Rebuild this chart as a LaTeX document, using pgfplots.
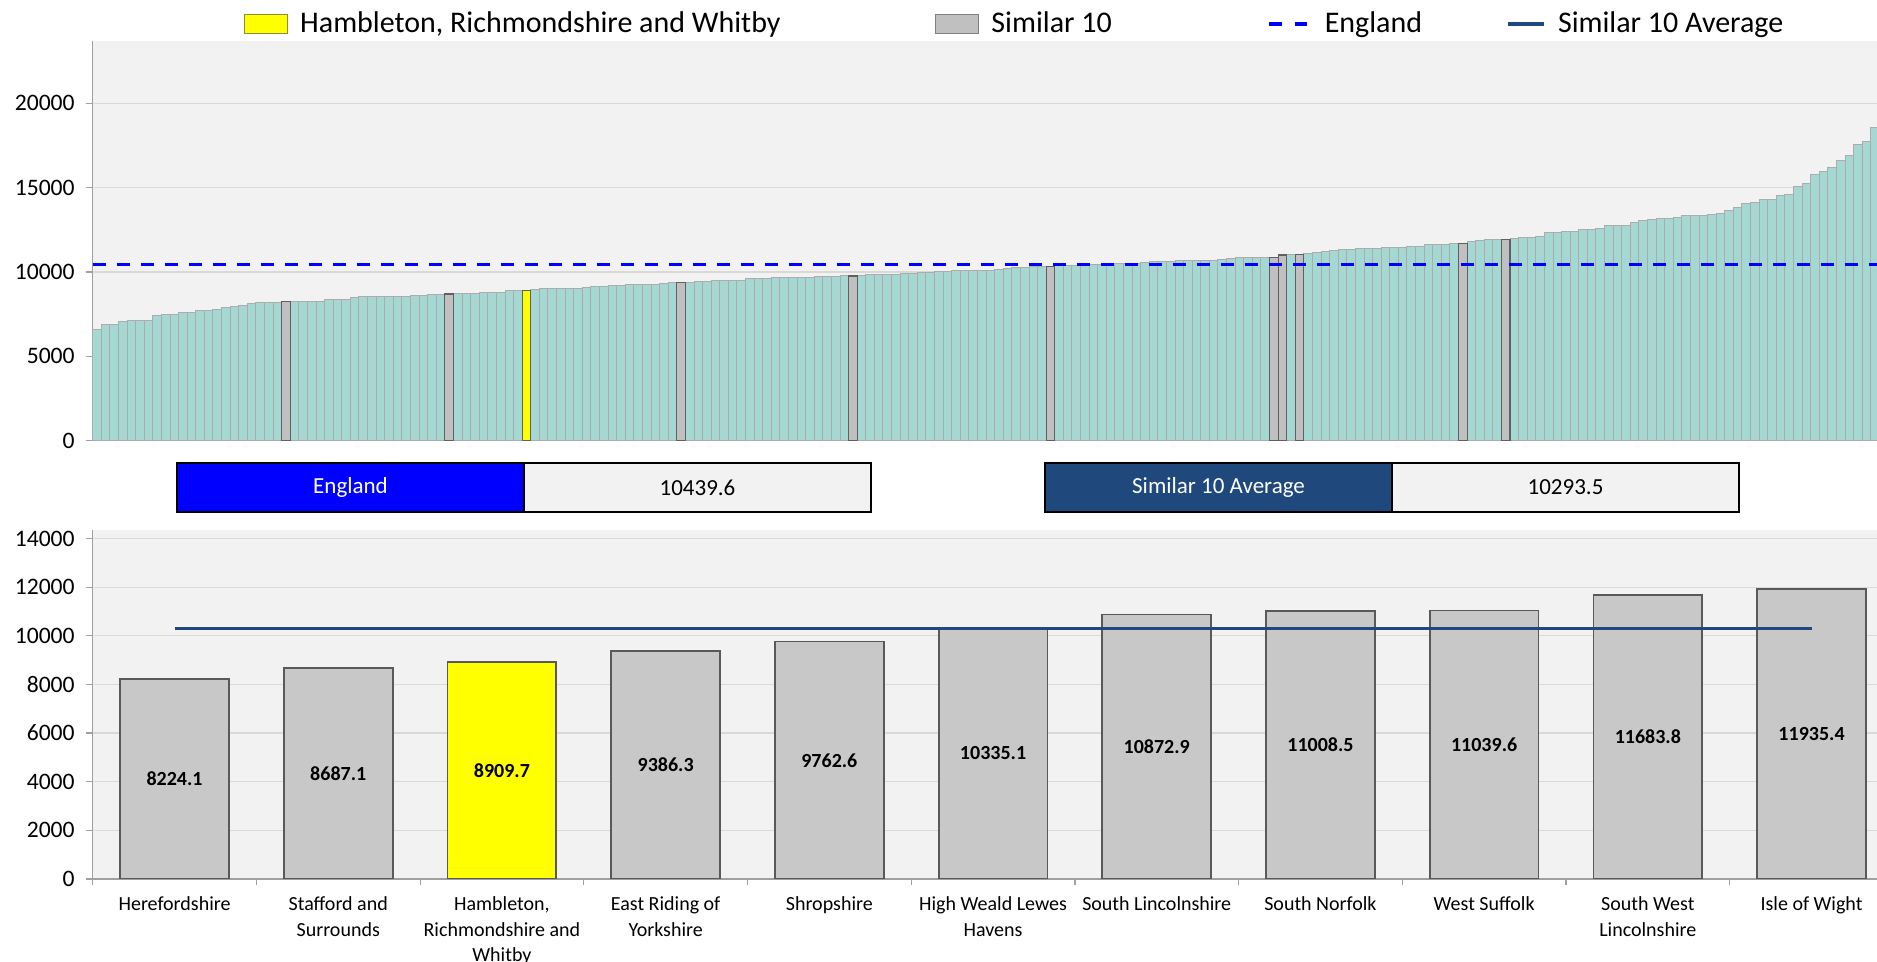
\documentclass[border=0pt]{standalone}
\usepackage{fontspec}
\setmainfont{Carlito}
\usepackage{pgfplots}
\usepackage{pgfplotstable}
\pgfplotsset{compat=1.18}
\definecolor{bgcol}{RGB}{242,242,242}
\definecolor{gridcol}{RGB}{217,217,217}
\definecolor{axiscol}{RGB}{160,160,160}
\definecolor{tealbar}{RGB}{166,216,211}
\definecolor{tealedge}{RGB}{172,172,172}
\definecolor{simfill}{RGB}{192,192,192}
\definecolor{simedge}{RGB}{96,96,96}
\definecolor{lowfill}{RGB}{200,200,200}
\definecolor{lowedge}{RGB}{89,89,89}
\definecolor{navy}{RGB}{31,73,125}
\definecolor{engblue}{RGB}{0,0,255}
\definecolor{hiyellow}{RGB}{255,255,0}
\definecolor{yedge}{RGB}{140,140,60}

\pgfplotstableread[row sep=\\]{x y\\
0 6560\\1 6895\\2 6900\\3 7075\\4 7095\\5 7130\\6 7135\\7 7410\\8 7485\\9 7490\\
10 7605\\11 7610\\12 7690\\13 7730\\14 7785\\15 7905\\16 7925\\17 8025\\18 8120\\19 8160\\
20 8165\\21 8170\\22 8224.1\\23 8228\\24 8232\\25 8250\\26 8255\\27 8350\\28 8360\\29 8390\\
30 8490\\31 8515\\32 8530\\33 8555\\34 8558\\35 8560\\36 8565\\37 8598\\38 8618\\39 8680\\
40 8685\\41 8687.1\\42 8700\\43 8720\\44 8725\\45 8795\\46 8798\\47 8800\\48 8905\\49 8908\\
50 8909.7\\51 8935\\52 8995\\53 9000\\54 9012\\55 9015\\56 9020\\57 9092\\58 9130\\59 9135\\
60 9210\\61 9212\\62 9250\\63 9255\\64 9258\\65 9262\\66 9330\\67 9382\\68 9386.3\\69 9400\\
70 9405\\71 9410\\72 9480\\73 9485\\74 9505\\75 9508\\76 9585\\77 9590\\78 9605\\79 9645\\
80 9665\\81 9667\\82 9670\\83 9672\\84 9725\\85 9728\\86 9730\\87 9760\\88 9762.6\\89 9765\\
90 9822\\91 9825\\92 9828\\93 9830\\94 9900\\95 9905\\96 9940\\97 9990\\98 10000\\99 10005\\
100 10064\\101 10084\\102 10086\\103 10104\\104 10106\\105 10143\\106 10183\\107 10242\\108 10262\\109 10320\\
110 10325\\111 10335.1\\112 10360\\113 10380\\114 10400\\115 10418\\116 10438\\117 10458\\118 10478\\119 10480\\
120 10482\\121 10517\\122 10557\\123 10616\\124 10636\\125 10638\\126 10655\\127 10675\\128 10677\\129 10679\\
130 10681\\131 10734\\132 10820\\133 10830\\134 10840\\135 10855\\136 10860\\137 10872.9\\138 11008.5\\139 11020\\
140 11039.6\\141 11071\\142 11150\\143 11209\\144 11248\\145 11308\\146 11347\\147 11367\\148 11369\\149 11387\\
150 11427\\151 11430\\152 11446\\153 11486\\154 11506\\155 11604\\156 11606\\157 11608\\158 11668\\159 11683.8\\
160 11805\\161 11845\\162 11904\\163 11930\\164 11935.4\\165 11964\\166 12023\\167 12062\\168 12122\\169 12319\\
170 12358\\171 12398\\172 12418\\173 12500\\174 12533\\175 12573\\176 12731\\177 12731\\178 12733\\179 12928\\
180 13067\\181 13126\\182 13165\\183 13167\\184 13225\\185 13324\\186 13344\\187 13346\\188 13423\\189 13482\\
190 13640\\191 13798\\192 14075\\193 14114\\194 14272\\195 14292\\196 14509\\197 14568\\198 15062\\199 15240\\
200 15793\\201 15971\\202 16189\\203 16584\\204 16880\\205 17532\\206 17729\\207 18539\\
}\allbars

\pgfplotstableread[row sep=\\]{x y\\
22 8224.1\\41 8687.1\\68 9386.3\\88 9762.6\\111 10335.1\\137 10872.9\\138 11008.5\\140 11039.6\\159 11683.8\\164 11935.4\\
}\simbars

\pgfplotstableread[row sep=\\]{x y\\
50 8909.7\\
}\ownbar

\pgfplotstableread[row sep=\\]{x v\\
0 8224.1\\1 8687.1\\3 9386.3\\4 9762.6\\5 10335.1\\6 10872.9\\7 11008.5\\8 11039.6\\9 11683.8\\10 11935.4\\
}\lowsim

\pgfplotstableread[row sep=\\]{x v\\
2 8909.7\\
}\lowown

\pgfplotstableread[row sep=\\]{x v\\
0 8224.1\\1 8687.1\\2 8909.7\\3 9386.3\\4 9762.6\\5 10335.1\\6 10872.9\\7 11008.5\\8 11039.6\\9 11683.8\\10 11935.4\\
}\lowall

\pgfplotsset{
  commonstyle/.style={
    scale only axis,
    anchor=south west,
    axis background/.style={fill=bgcol},
    axis x line*=bottom, axis y line*=left,
    axis line style={axiscol, line width=0.6pt},
    ymajorgrids, grid style={gridcol, line width=0.6pt},
    tick align=outside, major tick length=3.5pt,
    tick style={axiscol, line width=0.6pt},
    scaled y ticks=false,
    yticklabel={\pgfmathprintnumber[assume math mode=true,fixed,precision=0,set thousands separator={}]{\tick}},
    yticklabel style={font=\fontsize{11.8}{13}\selectfont, xshift=-2pt},
  }
}

\begin{document}
\begin{tikzpicture}
\useasboundingbox (0pt,0pt) rectangle (938.5pt,481pt);

% ---------------- top chart ----------------
\begin{axis}[commonstyle,
  at={(46.35pt,260.75pt)}, width=892.15pt, height=199.75pt,
  xmin=-0.5, xmax=207.22, ymin=0, ymax=23700,
  xtick=\empty, ytick={0,5000,...,20000},
  legend columns=4,
  legend cell align=left,
  legend style={draw=none, fill=none, inner sep=0pt, outer sep=0pt,
    at={(axis description cs:0.0848,1.0426)}, anchor=west,
    font=\fontsize{15}{18}\selectfont,
    nodes={inner sep=0pt},
    /tikz/every odd column/.append style={column sep=6pt},
    /tikz/every even column/.append style={column sep=0pt}},
]
\addplot[ybar, bar width=1, bar shift=0pt, fill=tealbar, draw=tealedge, line width=0.5pt, forget plot] table[x=x,y=y] {\allbars};
\addplot[ybar, bar width=1, bar shift=0pt, fill=simfill, draw=simedge, line width=0.6pt, forget plot] table[x=x,y=y] {\simbars};
\addplot[ybar, bar width=1, bar shift=0pt, fill=hiyellow, draw=simedge, line width=0.6pt, forget plot] table[x=x,y=y] {\ownbar};
\addplot[engblue, line width=1.7pt, dash pattern=on 6.7pt off 5.3pt, forget plot] coordinates {(-0.5,10439.6) (207.5,10439.6)};

\addlegendimage{legend image code/.code={\draw[fill=hiyellow, draw=yedge, line width=0.6pt] (0pt,-4.6pt) rectangle (21.5pt,4.6pt);}}
\addlegendentry{\makebox[317.5pt][l]{Hambleton, Richmondshire and Whitby}}
\addlegendimage{legend image code/.code={\draw[fill=simfill, draw=simedge!80, line width=0.6pt] (0pt,-4.6pt) rectangle (21.5pt,4.6pt);}}
\addlegendentry{\makebox[138pt][l]{Similar 10}}
\addlegendimage{legend image code/.code={\draw[engblue, line width=1.7pt, dash pattern=on 6.2pt off 6.6pt] (0pt,0pt) -- (21pt,0pt);}}
\addlegendentry{\makebox[91pt][l]{England}}
\addlegendimage{legend image code/.code={\draw[navy, line width=1.6pt] (1pt,0pt) -- (19pt,0pt);}}
\addlegendentry{Similar 10 Average}
\end{axis}

% ---------------- summary boxes ----------------
\draw[line width=1pt, fill=engblue] (88.5pt,225pt) rectangle (262pt,249.5pt);
\draw[line width=1pt, fill=bgcol] (262pt,225pt) rectangle (435.5pt,249.5pt);
\node[text=white, font=\fontsize{11.5}{13}\selectfont] at (175.25pt,237.25pt) {England};
\node[font=\fontsize{11.5}{13}\selectfont] at (348.75pt,237.25pt) {10439.6};
\draw[line width=1pt, fill=navy] (522.5pt,225pt) rectangle (696pt,249.5pt);
\draw[line width=1pt, fill=bgcol] (696pt,225pt) rectangle (869.5pt,249.5pt);
\node[text=white, font=\fontsize{11.5}{13}\selectfont] at (609.25pt,237.25pt) {Similar 10 Average};
\node[font=\fontsize{11.5}{13}\selectfont] at (782.75pt,237.25pt) {10293.5};

% ---------------- bottom chart ----------------
\begin{axis}[commonstyle,
  at={(46.35pt,41.5pt)}, width=892.15pt, height=174.5pt,
  xmin=-0.5, xmax=10.4, ymin=0, ymax=14350,
  ytick={0,2000,...,14000},
  xtick={0,...,10},
  xticklabels={Herefordshire, {Stafford and\\Surrounds}, {Hambleton,\\Richmondshire and\\Whitby}, {East Riding of\\Yorkshire}, Shropshire, {High Weald Lewes\\Havens}, South Lincolnshire, South Norfolk, West Suffolk, {South West\\Lincolnshire}, Isle of Wight},
  xticklabel style={align=center, font=\fontsize{10}{12.6}\selectfont, yshift=-2pt},
  major x tick style={draw=none},
  minor xtick={-0.5,0.5,...,9.5},
  minor tick length=3pt,
  minor x tick style={draw=axiscol, line width=0.6pt},
]
\addplot[ybar, bar width=0.665, bar shift=0pt, fill=lowfill, draw=lowedge, line width=0.9pt] table[x=x,y=v] {\lowsim};
\addplot[ybar, bar width=0.665, bar shift=0pt, fill=hiyellow, draw=lowedge, line width=0.9pt] table[x=x,y=v] {\lowown};
\addplot[navy, line width=1.4pt] coordinates {(0,10293.5) (10,10293.5)};
\addplot[draw=none, mark=none, nodes near coords, point meta=explicit symbolic,
  every node near coord/.style={anchor=center, font=\fontsize{10}{12}\selectfont\bfseries}]
  table[x=x, y expr=\thisrow{v}/2, meta=v] {\lowall};
\end{axis}
\end{tikzpicture}
\end{document}
